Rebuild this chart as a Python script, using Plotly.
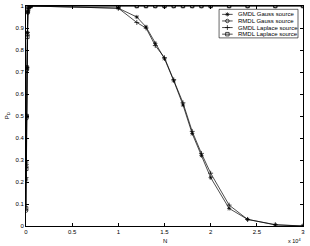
import plotly.graph_objects as go

# Data (N values, detection probability)
N_small = [10, 30, 60, 100, 150, 200, 300, 500]
N_large = [10000, 12000, 13000, 14000, 15000, 16000, 17000, 18000, 19000, 20000, 22000, 24000, 27000, 30000]

gmdl_gauss_small = [0.21, 0.29, 0.5, 0.72, 0.88, 0.97, 0.995, 1.0]
gmdl_gauss_large = [0.99, 0.95, 0.905, 0.83, 0.76, 0.66, 0.55, 0.42, 0.32, 0.22, 0.08, 0.03, 0.005, 0.0]

rmdl_gauss_small = [0.07, 0.27, 0.49, 0.71, 0.87, 0.97, 0.995, 1.0]
rmdl_gauss_large = [1.0] * 14

gmdl_laplace_small = [0.22, 0.28, 0.5, 0.72, 0.88, 0.98, 0.995, 1.0]
gmdl_laplace_large = [0.99, 0.925, 0.9, 0.82, 0.765, 0.665, 0.56, 0.43, 0.33, 0.24, 0.095, 0.03, 0.006, 0.0]

rmdl_laplace_small = [0.08, 0.26, 0.5, 0.72, 0.86, 0.98, 0.995, 1.0]
rmdl_laplace_large = [1.0] * 14

series_names = ["GMDL Gauss source", "RMDL Gauss source", "GMDL Laplace source", "RMDL Laplace source"]
series_symbols = ["asterisk-open", "circle-open", "cross-thin-open", "square-open"]

x_tickvals = [0, 5000, 10000, 15000, 20000, 25000, 30000]
x_ticktext = ["0", "0.5", "1", "1.5", "2", "2.5", "3"]
y_tickvals = [0, 0.1, 0.2, 0.3, 0.4, 0.5, 0.6, 0.7, 0.8, 0.9, 1]
y_ticktext = ["0", "0.1", "0.2", "0.3", "0.4", "0.5", "0.6", "0.7", "0.8", "0.9", "1"]

series_values = [
    gmdl_gauss_small + gmdl_gauss_large,
    rmdl_gauss_small + rmdl_gauss_large,
    gmdl_laplace_small + gmdl_laplace_large,
    rmdl_laplace_small + rmdl_laplace_large,
]
N_all = N_small + N_large

FAM = "Liberation Sans, Arial, sans-serif"
fnt = dict(family=FAM, size=6, color="black")

fig = go.Figure()
for name, ys, sym in zip(series_names, series_values, series_symbols):
    fig.add_trace(go.Scatter(
        x=N_all, y=ys, name=name, mode="lines+markers", showlegend=False,
        line=dict(color="black", width=0.7),
        marker=dict(symbol=sym, size=3.5, color="black", line=dict(color="black", width=0.7)),
    ))

# Custom compact legend (MATLAB style), laid out in plot-area fractions
leg_x0, leg_x1, leg_top, leg_bot = 0.697, 0.982, 0.985, 0.855
row_step = 0.030
row_first = 0.962
samp_x0, samp_x1, text_x = 0.708, 0.746, 0.757
shapes = [dict(type="rect", xref="paper", yref="paper", x0=leg_x0, x1=leg_x1,
               y0=leg_bot, y1=leg_top, line=dict(color="black", width=0.6),
               fillcolor="white", layer="below")]
annotations = []
for i, (name, sym) in enumerate(zip(series_names, series_symbols)):
    yy = row_first - i * row_step
    shapes.append(dict(type="line", xref="paper", yref="paper", x0=samp_x0, x1=samp_x1,
                       y0=yy, y1=yy, line=dict(color="black", width=0.7), layer="above"))
    fig.add_trace(go.Scatter(
        x=[(samp_x0 + samp_x1) / 2], y=[yy], xaxis="x2", yaxis="y2", mode="markers",
        showlegend=False, hoverinfo="skip",
        marker=dict(symbol=sym, size=3.5, color="black", line=dict(color="black", width=0.7)),
    ))
    annotations.append(dict(text=name, xref="paper", yref="paper", x=text_x, y=yy,
                            xanchor="left", yanchor="middle", showarrow=False, font=fnt))

annotations += [
    dict(text="N", xref="paper", yref="paper", x=0.5, y=-0.068,
         xanchor="center", yanchor="middle", showarrow=False, font=fnt),
    dict(text="x 10<sup>4</sup>", xref="paper", yref="paper", x=1.0, y=-0.089,
         xanchor="right", yanchor="bottom", showarrow=False, font=dict(family=FAM, size=5.5, color="black")),
    dict(text="P<sub>D</sub>", xref="paper", yref="paper", x=-0.068, y=0.5, textangle=-90,
         xanchor="center", yanchor="middle", showarrow=False, font=fnt),
]

fig.update_layout(
    width=310, height=246,
    margin=dict(l=26, r=7, t=6, b=20),
    paper_bgcolor="white", plot_bgcolor="white",
    font=fnt,
    showlegend=False,
    shapes=shapes,
    annotations=annotations,
    xaxis=dict(
        range=[0, 30000], tickvals=x_tickvals, ticktext=x_ticktext,
        ticks="inside", ticklen=3, tickwidth=0.6, tickcolor="black",
        showline=True, linecolor="black", linewidth=0.8, mirror="ticks",
        showgrid=False, zeroline=False, automargin=False, tickfont=fnt,
    ),
    yaxis=dict(
        range=[0, 1], tickvals=y_tickvals, ticktext=y_ticktext,
        ticks="inside", ticklen=3, tickwidth=0.6, tickcolor="black",
        showline=True, linecolor="black", linewidth=0.8, mirror="ticks",
        showgrid=False, zeroline=False, automargin=False, tickfont=fnt,
    ),
    xaxis2=dict(overlaying="x", range=[0, 1], visible=False, fixedrange=True),
    yaxis2=dict(overlaying="y", range=[0, 1], visible=False, fixedrange=True),
)

fig.write_html(
    "out.html",
    config={"displayModeBar": False},
    post_script="document.body.style.margin='0';document.body.style.padding='0';document.body.style.overflow='hidden';",
)
